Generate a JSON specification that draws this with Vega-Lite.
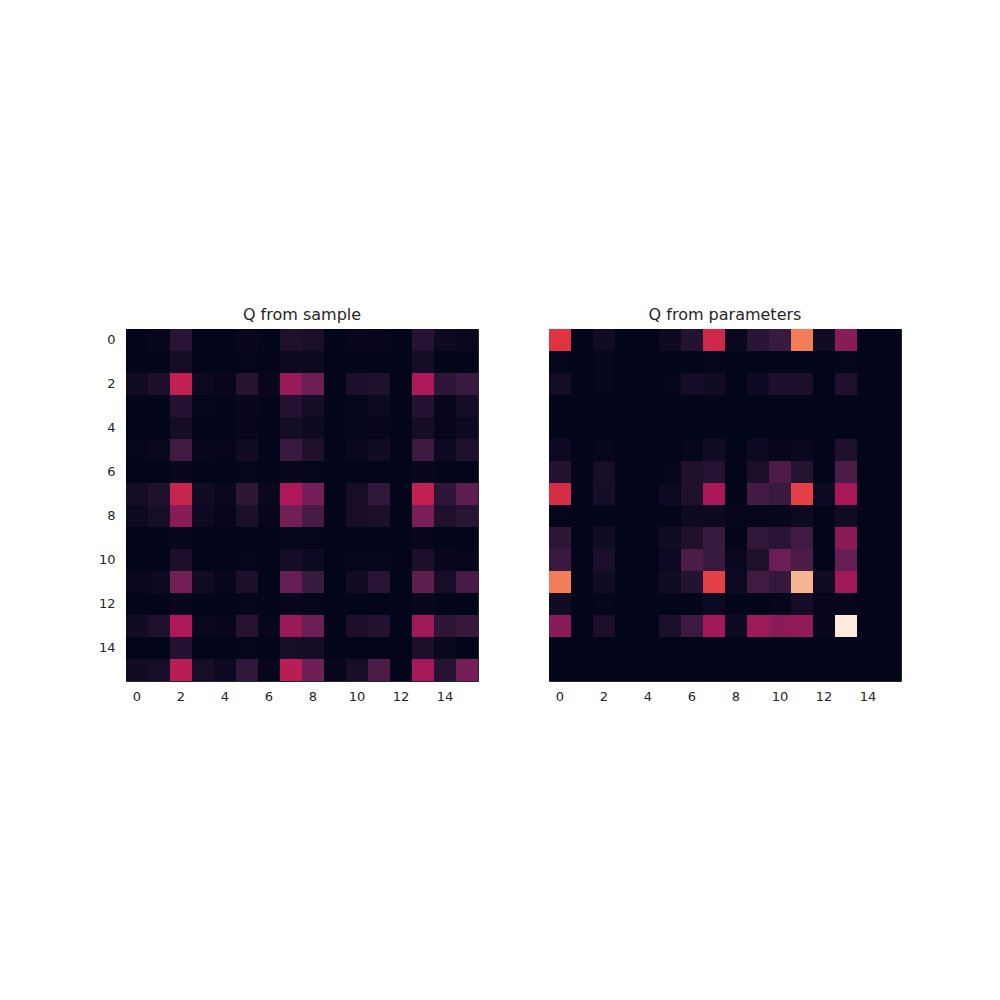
{
"$schema": "https://vega.github.io/schema/vega-lite/v6.json",
"background": "white",
"padding": {"left": 97, "top": 306, "right": 0, "bottom": 0},
"config": {
 "font": "DejaVu Sans",
 "view": {"stroke": "#262626", "strokeWidth": 1},
 "axis": {"domain": false, "ticks": false, "grid": false, "labelFontSize": 13, "labelColor": "#262626", "labelPadding": 9, "labelFont": "DejaVu Sans"},
 "axisY": {"labelPadding": 11},
 "title": {"fontSize": 16, "fontWeight": "normal", "color": "#262626", "offset": 6, "font": "DejaVu Sans"}
},
"datasets": {
"cells": [
{"p":"s","r":0,"c":0,"v":0},{"p":"s","r":0,"c":1,"v":0.01},{"p":"s","r":0,"c":2,"v":0.11},{"p":"s","r":0,"c":3,"v":0},{"p":"s","r":0,"c":4,"v":0},{"p":"s","r":0,"c":5,"v":0.015},{"p":"s","r":0,"c":6,"v":0},{"p":"s","r":0,"c":7,"v":0.08},{"p":"s","r":0,"c":8,"v":0.065},{"p":"s","r":0,"c":9,"v":0},{"p":"s","r":0,"c":10,"v":0.015},{"p":"s","r":0,"c":11,"v":0.01},{"p":"s","r":0,"c":12,"v":0},{"p":"s","r":0,"c":13,"v":0.1},{"p":"s","r":0,"c":14,"v":0.025},{"p":"s","r":0,"c":15,"v":0.02},
{"p":"s","r":1,"c":0,"v":0},{"p":"s","r":1,"c":1,"v":0},{"p":"s","r":1,"c":2,"v":0.05},{"p":"s","r":1,"c":3,"v":0},{"p":"s","r":1,"c":4,"v":0},{"p":"s","r":1,"c":5,"v":0.005},{"p":"s","r":1,"c":6,"v":0},{"p":"s","r":1,"c":7,"v":0.03},{"p":"s","r":1,"c":8,"v":0.025},{"p":"s","r":1,"c":9,"v":0},{"p":"s","r":1,"c":10,"v":0},{"p":"s","r":1,"c":11,"v":0},{"p":"s","r":1,"c":12,"v":0},{"p":"s","r":1,"c":13,"v":0.05},{"p":"s","r":1,"c":14,"v":0},{"p":"s","r":1,"c":15,"v":0},
{"p":"s","r":2,"c":0,"v":0.04},{"p":"s","r":2,"c":1,"v":0.07},{"p":"s","r":2,"c":2,"v":0.48},{"p":"s","r":2,"c":3,"v":0.025},{"p":"s","r":2,"c":4,"v":0.01},{"p":"s","r":2,"c":5,"v":0.1},{"p":"s","r":2,"c":6,"v":0.015},{"p":"s","r":2,"c":7,"v":0.38},{"p":"s","r":2,"c":8,"v":0.27},{"p":"s","r":2,"c":9,"v":0},{"p":"s","r":2,"c":10,"v":0.07},{"p":"s","r":2,"c":11,"v":0.08},{"p":"s","r":2,"c":12,"v":0},{"p":"s","r":2,"c":13,"v":0.43},{"p":"s","r":2,"c":14,"v":0.12},{"p":"s","r":2,"c":15,"v":0.15},
{"p":"s","r":3,"c":0,"v":0},{"p":"s","r":3,"c":1,"v":0},{"p":"s","r":3,"c":2,"v":0.09},{"p":"s","r":3,"c":3,"v":0.005},{"p":"s","r":3,"c":4,"v":0},{"p":"s","r":3,"c":5,"v":0.015},{"p":"s","r":3,"c":6,"v":0},{"p":"s","r":3,"c":7,"v":0.09},{"p":"s","r":3,"c":8,"v":0.05},{"p":"s","r":3,"c":9,"v":0},{"p":"s","r":3,"c":10,"v":0.005},{"p":"s","r":3,"c":11,"v":0.03},{"p":"s","r":3,"c":12,"v":0},{"p":"s","r":3,"c":13,"v":0.09},{"p":"s","r":3,"c":14,"v":0.01},{"p":"s","r":3,"c":15,"v":0.05},
{"p":"s","r":4,"c":0,"v":0},{"p":"s","r":4,"c":1,"v":0},{"p":"s","r":4,"c":2,"v":0.05},{"p":"s","r":4,"c":3,"v":0},{"p":"s","r":4,"c":4,"v":0},{"p":"s","r":4,"c":5,"v":0.01},{"p":"s","r":4,"c":6,"v":0},{"p":"s","r":4,"c":7,"v":0.05},{"p":"s","r":4,"c":8,"v":0.035},{"p":"s","r":4,"c":9,"v":0},{"p":"s","r":4,"c":10,"v":0.005},{"p":"s","r":4,"c":11,"v":0.01},{"p":"s","r":4,"c":12,"v":0},{"p":"s","r":4,"c":13,"v":0.05},{"p":"s","r":4,"c":14,"v":0.005},{"p":"s","r":4,"c":15,"v":0.03},
{"p":"s","r":5,"c":0,"v":0.005},{"p":"s","r":5,"c":1,"v":0.02},{"p":"s","r":5,"c":2,"v":0.17},{"p":"s","r":5,"c":3,"v":0.01},{"p":"s","r":5,"c":4,"v":0.005},{"p":"s","r":5,"c":5,"v":0.04},{"p":"s","r":5,"c":6,"v":0},{"p":"s","r":5,"c":7,"v":0.15},{"p":"s","r":5,"c":8,"v":0.08},{"p":"s","r":5,"c":9,"v":0},{"p":"s","r":5,"c":10,"v":0.02},{"p":"s","r":5,"c":11,"v":0.04},{"p":"s","r":5,"c":12,"v":0},{"p":"s","r":5,"c":13,"v":0.16},{"p":"s","r":5,"c":14,"v":0.03},{"p":"s","r":5,"c":15,"v":0.08},
{"p":"s","r":6,"c":0,"v":0},{"p":"s","r":6,"c":1,"v":0},{"p":"s","r":6,"c":2,"v":0.015},{"p":"s","r":6,"c":3,"v":0},{"p":"s","r":6,"c":4,"v":0},{"p":"s","r":6,"c":5,"v":0.005},{"p":"s","r":6,"c":6,"v":0},{"p":"s","r":6,"c":7,"v":0.01},{"p":"s","r":6,"c":8,"v":0.005},{"p":"s","r":6,"c":9,"v":0},{"p":"s","r":6,"c":10,"v":0},{"p":"s","r":6,"c":11,"v":0},{"p":"s","r":6,"c":12,"v":0},{"p":"s","r":6,"c":13,"v":0.015},{"p":"s","r":6,"c":14,"v":0},{"p":"s","r":6,"c":15,"v":0},
{"p":"s","r":7,"c":0,"v":0.05},{"p":"s","r":7,"c":1,"v":0.08},{"p":"s","r":7,"c":2,"v":0.5},{"p":"s","r":7,"c":3,"v":0.04},{"p":"s","r":7,"c":4,"v":0.02},{"p":"s","r":7,"c":5,"v":0.12},{"p":"s","r":7,"c":6,"v":0.02},{"p":"s","r":7,"c":7,"v":0.43},{"p":"s","r":7,"c":8,"v":0.3},{"p":"s","r":7,"c":9,"v":0},{"p":"s","r":7,"c":10,"v":0.06},{"p":"s","r":7,"c":11,"v":0.13},{"p":"s","r":7,"c":12,"v":0},{"p":"s","r":7,"c":13,"v":0.48},{"p":"s","r":7,"c":14,"v":0.12},{"p":"s","r":7,"c":15,"v":0.24},
{"p":"s","r":8,"c":0,"v":0.03},{"p":"s","r":8,"c":1,"v":0.06},{"p":"s","r":8,"c":2,"v":0.34},{"p":"s","r":8,"c":3,"v":0.03},{"p":"s","r":8,"c":4,"v":0.01},{"p":"s","r":8,"c":5,"v":0.07},{"p":"s","r":8,"c":6,"v":0.01},{"p":"s","r":8,"c":7,"v":0.29},{"p":"s","r":8,"c":8,"v":0.19},{"p":"s","r":8,"c":9,"v":0},{"p":"s","r":8,"c":10,"v":0.06},{"p":"s","r":8,"c":11,"v":0.07},{"p":"s","r":8,"c":12,"v":0},{"p":"s","r":8,"c":13,"v":0.31},{"p":"s","r":8,"c":14,"v":0.08},{"p":"s","r":8,"c":15,"v":0.11},
{"p":"s","r":9,"c":0,"v":0},{"p":"s","r":9,"c":1,"v":0},{"p":"s","r":9,"c":2,"v":0.01},{"p":"s","r":9,"c":3,"v":0},{"p":"s","r":9,"c":4,"v":0},{"p":"s","r":9,"c":5,"v":0},{"p":"s","r":9,"c":6,"v":0},{"p":"s","r":9,"c":7,"v":0.005},{"p":"s","r":9,"c":8,"v":0.005},{"p":"s","r":9,"c":9,"v":0},{"p":"s","r":9,"c":10,"v":0},{"p":"s","r":9,"c":11,"v":0},{"p":"s","r":9,"c":12,"v":0},{"p":"s","r":9,"c":13,"v":0.01},{"p":"s","r":9,"c":14,"v":0},{"p":"s","r":9,"c":15,"v":0},
{"p":"s","r":10,"c":0,"v":0},{"p":"s","r":10,"c":1,"v":0},{"p":"s","r":10,"c":2,"v":0.07},{"p":"s","r":10,"c":3,"v":0},{"p":"s","r":10,"c":4,"v":0},{"p":"s","r":10,"c":5,"v":0.005},{"p":"s","r":10,"c":6,"v":0},{"p":"s","r":10,"c":7,"v":0.05},{"p":"s","r":10,"c":8,"v":0.03},{"p":"s","r":10,"c":9,"v":0},{"p":"s","r":10,"c":10,"v":0.005},{"p":"s","r":10,"c":11,"v":0.005},{"p":"s","r":10,"c":12,"v":0},{"p":"s","r":10,"c":13,"v":0.07},{"p":"s","r":10,"c":14,"v":0.01},{"p":"s","r":10,"c":15,"v":0.005},
{"p":"s","r":11,"c":0,"v":0.02},{"p":"s","r":11,"c":1,"v":0.03},{"p":"s","r":11,"c":2,"v":0.29},{"p":"s","r":11,"c":3,"v":0.04},{"p":"s","r":11,"c":4,"v":0.015},{"p":"s","r":11,"c":5,"v":0.07},{"p":"s","r":11,"c":6,"v":0},{"p":"s","r":11,"c":7,"v":0.26},{"p":"s","r":11,"c":8,"v":0.15},{"p":"s","r":11,"c":9,"v":0},{"p":"s","r":11,"c":10,"v":0.04},{"p":"s","r":11,"c":11,"v":0.11},{"p":"s","r":11,"c":12,"v":0},{"p":"s","r":11,"c":13,"v":0.24},{"p":"s","r":11,"c":14,"v":0.06},{"p":"s","r":11,"c":15,"v":0.19},
{"p":"s","r":12,"c":0,"v":0},{"p":"s","r":12,"c":1,"v":0},{"p":"s","r":12,"c":2,"v":0.015},{"p":"s","r":12,"c":3,"v":0},{"p":"s","r":12,"c":4,"v":0},{"p":"s","r":12,"c":5,"v":0.005},{"p":"s","r":12,"c":6,"v":0},{"p":"s","r":12,"c":7,"v":0.01},{"p":"s","r":12,"c":8,"v":0.005},{"p":"s","r":12,"c":9,"v":0},{"p":"s","r":12,"c":10,"v":0},{"p":"s","r":12,"c":11,"v":0},{"p":"s","r":12,"c":12,"v":0},{"p":"s","r":12,"c":13,"v":0.015},{"p":"s","r":12,"c":14,"v":0},{"p":"s","r":12,"c":15,"v":0},
{"p":"s","r":13,"c":0,"v":0.04},{"p":"s","r":13,"c":1,"v":0.08},{"p":"s","r":13,"c":2,"v":0.43},{"p":"s","r":13,"c":3,"v":0.02},{"p":"s","r":13,"c":4,"v":0.01},{"p":"s","r":13,"c":5,"v":0.1},{"p":"s","r":13,"c":6,"v":0.01},{"p":"s","r":13,"c":7,"v":0.38},{"p":"s","r":13,"c":8,"v":0.27},{"p":"s","r":13,"c":9,"v":0},{"p":"s","r":13,"c":10,"v":0.07},{"p":"s","r":13,"c":11,"v":0.09},{"p":"s","r":13,"c":12,"v":0},{"p":"s","r":13,"c":13,"v":0.39},{"p":"s","r":13,"c":14,"v":0.12},{"p":"s","r":13,"c":15,"v":0.14},
{"p":"s","r":14,"c":0,"v":0},{"p":"s","r":14,"c":1,"v":0},{"p":"s","r":14,"c":2,"v":0.09},{"p":"s","r":14,"c":3,"v":0},{"p":"s","r":14,"c":4,"v":0},{"p":"s","r":14,"c":5,"v":0.005},{"p":"s","r":14,"c":6,"v":0},{"p":"s","r":14,"c":7,"v":0.06},{"p":"s","r":14,"c":8,"v":0.05},{"p":"s","r":14,"c":9,"v":0},{"p":"s","r":14,"c":10,"v":0},{"p":"s","r":14,"c":11,"v":0},{"p":"s","r":14,"c":12,"v":0},{"p":"s","r":14,"c":13,"v":0.07},{"p":"s","r":14,"c":14,"v":0.02},{"p":"s","r":14,"c":15,"v":0},
{"p":"s","r":15,"c":0,"v":0.04},{"p":"s","r":15,"c":1,"v":0.06},{"p":"s","r":15,"c":2,"v":0.46},{"p":"s","r":15,"c":3,"v":0.06},{"p":"s","r":15,"c":4,"v":0.03},{"p":"s","r":15,"c":5,"v":0.13},{"p":"s","r":15,"c":6,"v":0.01},{"p":"s","r":15,"c":7,"v":0.46},{"p":"s","r":15,"c":8,"v":0.28},{"p":"s","r":15,"c":9,"v":0.01},{"p":"s","r":15,"c":10,"v":0.06},{"p":"s","r":15,"c":11,"v":0.2},{"p":"s","r":15,"c":12,"v":0},{"p":"s","r":15,"c":13,"v":0.41},{"p":"s","r":15,"c":14,"v":0.1},{"p":"s","r":15,"c":15,"v":0.3},
{"p":"q","r":0,"c":0,"v":0.57},{"p":"q","r":0,"c":1,"v":0},{"p":"q","r":0,"c":2,"v":0.04},{"p":"q","r":0,"c":3,"v":0},{"p":"q","r":0,"c":4,"v":0},{"p":"q","r":0,"c":5,"v":0.03},{"p":"q","r":0,"c":6,"v":0.09},{"p":"q","r":0,"c":7,"v":0.52},{"p":"q","r":0,"c":8,"v":0.02},{"p":"q","r":0,"c":9,"v":0.11},{"p":"q","r":0,"c":10,"v":0.15},{"p":"q","r":0,"c":11,"v":0.73},{"p":"q","r":0,"c":12,"v":0.04},{"p":"q","r":0,"c":13,"v":0.34},{"p":"q","r":0,"c":14,"v":0},{"p":"q","r":0,"c":15,"v":0},
{"p":"q","r":1,"c":0,"v":0.005},{"p":"q","r":1,"c":1,"v":0},{"p":"q","r":1,"c":2,"v":0.005},{"p":"q","r":1,"c":3,"v":0},{"p":"q","r":1,"c":4,"v":0},{"p":"q","r":1,"c":5,"v":0},{"p":"q","r":1,"c":6,"v":0},{"p":"q","r":1,"c":7,"v":0.005},{"p":"q","r":1,"c":8,"v":0},{"p":"q","r":1,"c":9,"v":0},{"p":"q","r":1,"c":10,"v":0},{"p":"q","r":1,"c":11,"v":0},{"p":"q","r":1,"c":12,"v":0},{"p":"q","r":1,"c":13,"v":0.005},{"p":"q","r":1,"c":14,"v":0},{"p":"q","r":1,"c":15,"v":0},
{"p":"q","r":2,"c":0,"v":0.05},{"p":"q","r":2,"c":1,"v":0},{"p":"q","r":2,"c":2,"v":0.005},{"p":"q","r":2,"c":3,"v":0},{"p":"q","r":2,"c":4,"v":0},{"p":"q","r":2,"c":5,"v":0.005},{"p":"q","r":2,"c":6,"v":0.05},{"p":"q","r":2,"c":7,"v":0.04},{"p":"q","r":2,"c":8,"v":0},{"p":"q","r":2,"c":9,"v":0.03},{"p":"q","r":2,"c":10,"v":0.07},{"p":"q","r":2,"c":11,"v":0.07},{"p":"q","r":2,"c":12,"v":0},{"p":"q","r":2,"c":13,"v":0.08},{"p":"q","r":2,"c":14,"v":0},{"p":"q","r":2,"c":15,"v":0},
{"p":"q","r":3,"c":0,"v":0},{"p":"q","r":3,"c":1,"v":0},{"p":"q","r":3,"c":2,"v":0},{"p":"q","r":3,"c":3,"v":0},{"p":"q","r":3,"c":4,"v":0},{"p":"q","r":3,"c":5,"v":0},{"p":"q","r":3,"c":6,"v":0},{"p":"q","r":3,"c":7,"v":0},{"p":"q","r":3,"c":8,"v":0},{"p":"q","r":3,"c":9,"v":0},{"p":"q","r":3,"c":10,"v":0},{"p":"q","r":3,"c":11,"v":0},{"p":"q","r":3,"c":12,"v":0},{"p":"q","r":3,"c":13,"v":0},{"p":"q","r":3,"c":14,"v":0},{"p":"q","r":3,"c":15,"v":0},
{"p":"q","r":4,"c":0,"v":0},{"p":"q","r":4,"c":1,"v":0},{"p":"q","r":4,"c":2,"v":0},{"p":"q","r":4,"c":3,"v":0},{"p":"q","r":4,"c":4,"v":0},{"p":"q","r":4,"c":5,"v":0},{"p":"q","r":4,"c":6,"v":0},{"p":"q","r":4,"c":7,"v":0},{"p":"q","r":4,"c":8,"v":0},{"p":"q","r":4,"c":9,"v":0},{"p":"q","r":4,"c":10,"v":0},{"p":"q","r":4,"c":11,"v":0},{"p":"q","r":4,"c":12,"v":0},{"p":"q","r":4,"c":13,"v":0},{"p":"q","r":4,"c":14,"v":0},{"p":"q","r":4,"c":15,"v":0},
{"p":"q","r":5,"c":0,"v":0.03},{"p":"q","r":5,"c":1,"v":0},{"p":"q","r":5,"c":2,"v":0.005},{"p":"q","r":5,"c":3,"v":0},{"p":"q","r":5,"c":4,"v":0},{"p":"q","r":5,"c":5,"v":0},{"p":"q","r":5,"c":6,"v":0.005},{"p":"q","r":5,"c":7,"v":0.04},{"p":"q","r":5,"c":8,"v":0},{"p":"q","r":5,"c":9,"v":0.03},{"p":"q","r":5,"c":10,"v":0.01},{"p":"q","r":5,"c":11,"v":0.02},{"p":"q","r":5,"c":12,"v":0},{"p":"q","r":5,"c":13,"v":0.08},{"p":"q","r":5,"c":14,"v":0},{"p":"q","r":5,"c":15,"v":0},
{"p":"q","r":6,"c":0,"v":0.09},{"p":"q","r":6,"c":1,"v":0},{"p":"q","r":6,"c":2,"v":0.06},{"p":"q","r":6,"c":3,"v":0},{"p":"q","r":6,"c":4,"v":0},{"p":"q","r":6,"c":5,"v":0.005},{"p":"q","r":6,"c":6,"v":0.08},{"p":"q","r":6,"c":7,"v":0.1},{"p":"q","r":6,"c":8,"v":0},{"p":"q","r":6,"c":9,"v":0.07},{"p":"q","r":6,"c":10,"v":0.2},{"p":"q","r":6,"c":11,"v":0.1},{"p":"q","r":6,"c":12,"v":0},{"p":"q","r":6,"c":13,"v":0.2},{"p":"q","r":6,"c":14,"v":0},{"p":"q","r":6,"c":15,"v":0},
{"p":"q","r":7,"c":0,"v":0.54},{"p":"q","r":7,"c":1,"v":0},{"p":"q","r":7,"c":2,"v":0.05},{"p":"q","r":7,"c":3,"v":0},{"p":"q","r":7,"c":4,"v":0},{"p":"q","r":7,"c":5,"v":0.03},{"p":"q","r":7,"c":6,"v":0.08},{"p":"q","r":7,"c":7,"v":0.42},{"p":"q","r":7,"c":8,"v":0},{"p":"q","r":7,"c":9,"v":0.18},{"p":"q","r":7,"c":10,"v":0.15},{"p":"q","r":7,"c":11,"v":0.6},{"p":"q","r":7,"c":12,"v":0.03},{"p":"q","r":7,"c":13,"v":0.42},{"p":"q","r":7,"c":14,"v":0},{"p":"q","r":7,"c":15,"v":0},
{"p":"q","r":8,"c":0,"v":0.005},{"p":"q","r":8,"c":1,"v":0},{"p":"q","r":8,"c":2,"v":0},{"p":"q","r":8,"c":3,"v":0},{"p":"q","r":8,"c":4,"v":0},{"p":"q","r":8,"c":5,"v":0},{"p":"q","r":8,"c":6,"v":0.03},{"p":"q","r":8,"c":7,"v":0.03},{"p":"q","r":8,"c":8,"v":0.005},{"p":"q","r":8,"c":9,"v":0.005},{"p":"q","r":8,"c":10,"v":0.01},{"p":"q","r":8,"c":11,"v":0.03},{"p":"q","r":8,"c":12,"v":0},{"p":"q","r":8,"c":13,"v":0.04},{"p":"q","r":8,"c":14,"v":0},{"p":"q","r":8,"c":15,"v":0},
{"p":"q","r":9,"c":0,"v":0.12},{"p":"q","r":9,"c":1,"v":0},{"p":"q","r":9,"c":2,"v":0.04},{"p":"q","r":9,"c":3,"v":0},{"p":"q","r":9,"c":4,"v":0},{"p":"q","r":9,"c":5,"v":0.04},{"p":"q","r":9,"c":6,"v":0.08},{"p":"q","r":9,"c":7,"v":0.15},{"p":"q","r":9,"c":8,"v":0},{"p":"q","r":9,"c":9,"v":0.13},{"p":"q","r":9,"c":10,"v":0.11},{"p":"q","r":9,"c":11,"v":0.17},{"p":"q","r":9,"c":12,"v":0},{"p":"q","r":9,"c":13,"v":0.35},{"p":"q","r":9,"c":14,"v":0},{"p":"q","r":9,"c":15,"v":0},
{"p":"q","r":10,"c":0,"v":0.15},{"p":"q","r":10,"c":1,"v":0},{"p":"q","r":10,"c":2,"v":0.07},{"p":"q","r":10,"c":3,"v":0},{"p":"q","r":10,"c":4,"v":0},{"p":"q","r":10,"c":5,"v":0.03},{"p":"q","r":10,"c":6,"v":0.2},{"p":"q","r":10,"c":7,"v":0.15},{"p":"q","r":10,"c":8,"v":0.02},{"p":"q","r":10,"c":9,"v":0.08},{"p":"q","r":10,"c":10,"v":0.27},{"p":"q","r":10,"c":11,"v":0.2},{"p":"q","r":10,"c":12,"v":0},{"p":"q","r":10,"c":13,"v":0.26},{"p":"q","r":10,"c":14,"v":0},{"p":"q","r":10,"c":15,"v":0},
{"p":"q","r":11,"c":0,"v":0.73},{"p":"q","r":11,"c":1,"v":0},{"p":"q","r":11,"c":2,"v":0.04},{"p":"q","r":11,"c":3,"v":0},{"p":"q","r":11,"c":4,"v":0},{"p":"q","r":11,"c":5,"v":0.04},{"p":"q","r":11,"c":6,"v":0.09},{"p":"q","r":11,"c":7,"v":0.6},{"p":"q","r":11,"c":8,"v":0.03},{"p":"q","r":11,"c":9,"v":0.17},{"p":"q","r":11,"c":10,"v":0.14},{"p":"q","r":11,"c":11,"v":0.86},{"p":"q","r":11,"c":12,"v":0.04},{"p":"q","r":11,"c":13,"v":0.4},{"p":"q","r":11,"c":14,"v":0},{"p":"q","r":11,"c":15,"v":0},
{"p":"q","r":12,"c":0,"v":0.04},{"p":"q","r":12,"c":1,"v":0},{"p":"q","r":12,"c":2,"v":0.005},{"p":"q","r":12,"c":3,"v":0},{"p":"q","r":12,"c":4,"v":0},{"p":"q","r":12,"c":5,"v":0},{"p":"q","r":12,"c":6,"v":0},{"p":"q","r":12,"c":7,"v":0.03},{"p":"q","r":12,"c":8,"v":0},{"p":"q","r":12,"c":9,"v":0},{"p":"q","r":12,"c":10,"v":0.005},{"p":"q","r":12,"c":11,"v":0.05},{"p":"q","r":12,"c":12,"v":0.01},{"p":"q","r":12,"c":13,"v":0.01},{"p":"q","r":12,"c":14,"v":0},{"p":"q","r":12,"c":15,"v":0},
{"p":"q","r":13,"c":0,"v":0.34},{"p":"q","r":13,"c":1,"v":0},{"p":"q","r":13,"c":2,"v":0.07},{"p":"q","r":13,"c":3,"v":0},{"p":"q","r":13,"c":4,"v":0},{"p":"q","r":13,"c":5,"v":0.07},{"p":"q","r":13,"c":6,"v":0.16},{"p":"q","r":13,"c":7,"v":0.4},{"p":"q","r":13,"c":8,"v":0.03},{"p":"q","r":13,"c":9,"v":0.39},{"p":"q","r":13,"c":10,"v":0.35},{"p":"q","r":13,"c":11,"v":0.36},{"p":"q","r":13,"c":12,"v":0.01},{"p":"q","r":13,"c":13,"v":1.0},{"p":"q","r":13,"c":14,"v":0},{"p":"q","r":13,"c":15,"v":0},
{"p":"q","r":14,"c":0,"v":0},{"p":"q","r":14,"c":1,"v":0},{"p":"q","r":14,"c":2,"v":0},{"p":"q","r":14,"c":3,"v":0},{"p":"q","r":14,"c":4,"v":0},{"p":"q","r":14,"c":5,"v":0},{"p":"q","r":14,"c":6,"v":0},{"p":"q","r":14,"c":7,"v":0},{"p":"q","r":14,"c":8,"v":0},{"p":"q","r":14,"c":9,"v":0},{"p":"q","r":14,"c":10,"v":0},{"p":"q","r":14,"c":11,"v":0},{"p":"q","r":14,"c":12,"v":0},{"p":"q","r":14,"c":13,"v":0},{"p":"q","r":14,"c":14,"v":0},{"p":"q","r":14,"c":15,"v":0},
{"p":"q","r":15,"c":0,"v":0},{"p":"q","r":15,"c":1,"v":0},{"p":"q","r":15,"c":2,"v":0},{"p":"q","r":15,"c":3,"v":0},{"p":"q","r":15,"c":4,"v":0},{"p":"q","r":15,"c":5,"v":0},{"p":"q","r":15,"c":6,"v":0},{"p":"q","r":15,"c":7,"v":0},{"p":"q","r":15,"c":8,"v":0},{"p":"q","r":15,"c":9,"v":0},{"p":"q","r":15,"c":10,"v":0},{"p":"q","r":15,"c":11,"v":0},{"p":"q","r":15,"c":12,"v":0},{"p":"q","r":15,"c":13,"v":0},{"p":"q","r":15,"c":14,"v":0},{"p":"q","r":15,"c":15,"v":0}
]
},
"data": {"name": "cells"},
"spacing": 69,
"hconcat": [
 {
  "title": "Q from sample",
  "width": 352, "height": 352,
  "transform": [{"filter": "datum.p == 's'"}],
  "mark": {"type": "rect"},
  "encoding": {
   "x": {"field": "c", "type": "ordinal", "scale": {"paddingInner": 0, "paddingOuter": 0}, "axis": {"values": [0,2,4,6,8,10,12,14], "title": null, "labelAngle": 0}},
   "y": {"field": "r", "type": "ordinal", "scale": {"paddingInner": 0, "paddingOuter": 0}, "axis": {"values": [0,2,4,6,8,10,12,14], "title": null}},
   "color": {"field": "v", "type": "quantitative", "legend": null,
     "scale": {"domain": [0, 0.142857, 0.285714, 0.428571, 0.571429, 0.714286, 0.857143, 1], "range": ["#03051A", "#35193E", "#701F57", "#AD1759", "#E13342", "#F37651", "#F6B48F", "#FAEBDD"], "interpolate": "rgb", "clamp": true}}
  }
 },
 {
  "title": "Q from parameters",
  "width": 352, "height": 352,
  "transform": [{"filter": "datum.p == 'q'"}],
  "mark": {"type": "rect"},
  "encoding": {
   "x": {"field": "c", "type": "ordinal", "scale": {"paddingInner": 0, "paddingOuter": 0}, "axis": {"values": [0,2,4,6,8,10,12,14], "title": null, "labelAngle": 0}},
   "y": {"field": "r", "type": "ordinal", "scale": {"paddingInner": 0, "paddingOuter": 0}, "axis": null},
   "color": {"field": "v", "type": "quantitative", "legend": null,
     "scale": {"domain": [0, 0.142857, 0.285714, 0.428571, 0.571429, 0.714286, 0.857143, 1], "range": ["#03051A", "#35193E", "#701F57", "#AD1759", "#E13342", "#F37651", "#F6B48F", "#FAEBDD"], "interpolate": "rgb", "clamp": true}}
  }
 }
]
}
